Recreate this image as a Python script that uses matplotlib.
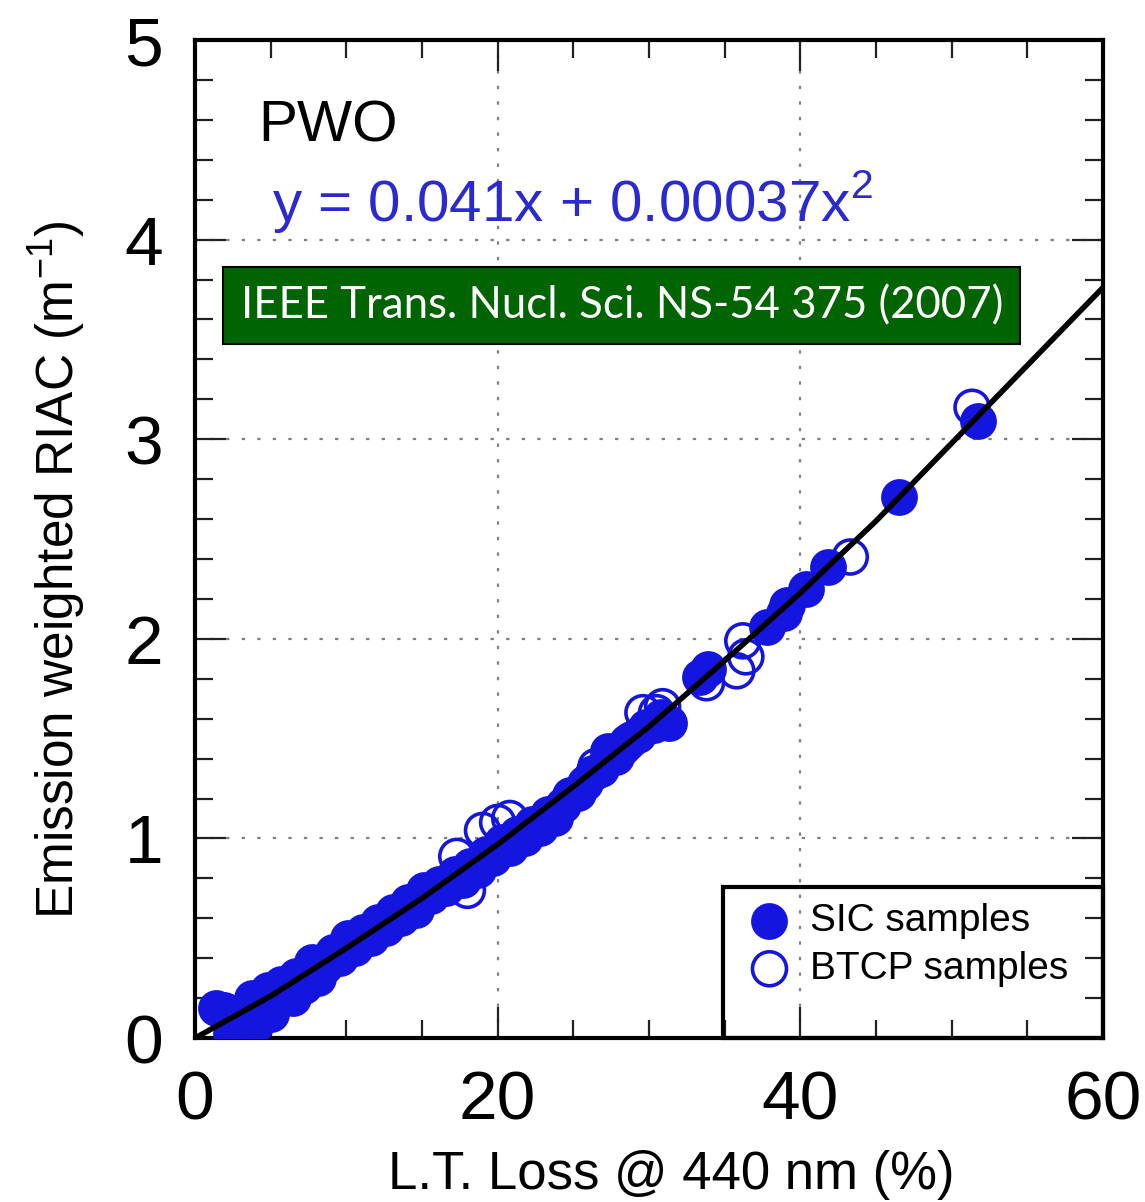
import matplotlib
matplotlib.use("Agg")
import matplotlib.pyplot as plt
from matplotlib.patches import Rectangle
from matplotlib.ticker import MultipleLocator

plt.rcParams['font.family'] = ['Liberation Sans', 'DejaVu Sans']
plt.rcParams['mathtext.fontset'] = 'custom'
plt.rcParams['mathtext.rm'] = 'Liberation Sans'

# SIC samples (filled)
sic_x = [1.4, 1.9, 2.4, 2.9, 3.3, 3.8, 4.3, 4.8, 5.2, 5.7, 6.2, 6.7, 7.2, 7.7,
         8.1, 8.6, 9.1, 9.6, 10.1, 10.6, 11.1, 11.6, 12.1, 12.6, 13.1, 13.6,
         14.1, 14.6, 15.1, 15.6, 16.1, 16.6, 17.2, 17.7, 18.2, 18.7, 19.2,
         19.7, 20.3, 20.8, 21.3, 21.8, 22.3, 22.8, 23.3, 23.8, 24.3, 24.8,
         25.3, 25.8, 26.3, 26.8, 27.3, 27.8, 28.3, 28.8, 29.3, 29.8, 30.3,
         30.8, 31.3, 3.0, 4.0, 5.0, 6.5, 33.4, 33.9, 37.8, 38.9, 39.1, 40.4,
         41.8, 46.5, 51.75]
sic_y = [0.15, 0.14, 0.02, 0.10, 0.03, 0.20, 0.12, 0.24, 0.17, 0.27, 0.21,
         0.31, 0.26, 0.38, 0.30, 0.36, 0.43, 0.40, 0.50, 0.45, 0.53, 0.50,
         0.58, 0.55, 0.63, 0.60, 0.68, 0.64, 0.74, 0.71, 0.77, 0.75, 0.82,
         0.79, 0.86, 0.84, 0.92, 0.90, 0.98, 0.95, 1.02, 1.00, 1.07, 1.05,
         1.12, 1.10, 1.17, 1.22, 1.23, 1.28, 1.33, 1.35, 1.44, 1.41, 1.46,
         1.50, 1.52, 1.56, 1.57, 1.61, 1.58, 0.00, 0.07, 0.12, 0.20, 1.81,
         1.85, 2.06, 2.13, 2.17, 2.25, 2.36, 2.71, 3.09]

# BTCP samples (open)
btcp_x = [17.3, 18.0, 19.0, 20.0, 20.8, 26.5, 28.6, 29.6, 30.5, 30.9, 33.8,
          35.8, 36.2, 36.4, 43.3, 51.35]
btcp_y = [0.91, 0.74, 1.04, 1.08, 1.10, 1.36, 1.48, 1.63, 1.63, 1.66, 1.78,
          1.84, 1.99, 1.91, 2.41, 3.16]

# fitted curve y = 0.041x + 0.00037x^2, read at 5 % steps
fit_x = [0, 5, 10, 15, 20, 25, 30, 35, 40, 45, 50, 55, 60]
fit_y = [0, 0.21, 0.45, 0.70, 0.97, 1.26, 1.56, 1.89, 2.23, 2.59, 2.98, 3.37, 3.76]

blue = '#1515e0'

fig = plt.figure(figsize=(11.45, 12.02), dpi=100)
ax = fig.add_axes([0.1703, 0.1364, 0.7930, 0.8303])

ax.scatter(sic_x, sic_y, s=600, c=blue, edgecolors=blue, linewidths=2,
           zorder=3, label='SIC samples')
ax.scatter(btcp_x, btcp_y, s=600, facecolors='none', edgecolors=blue,
           linewidths=2.6, zorder=3, label='BTCP samples')
ax.plot(fit_x, fit_y, color='black', lw=4, zorder=4)

ax.set_xlim(0, 60)
ax.set_ylim(0, 5)
ax.xaxis.set_major_locator(MultipleLocator(20))
ax.xaxis.set_minor_locator(MultipleLocator(5))
ax.yaxis.set_major_locator(MultipleLocator(1))
ax.yaxis.set_minor_locator(MultipleLocator(0.2))
ax.tick_params(which='both', direction='in', top=True, right=True, width=1.6,
               color='#222222')
ax.tick_params(which='major', length=22, labelsize=50, pad=23)
ax.tick_params(which='minor', length=13)
for sp in ax.spines.values():
    sp.set_linewidth(3)

ax.grid(True, which='major', color='#808080', lw=1.6, ls=(0, (1.5, 5.5)), zorder=1)

ax.set_xlabel('L.T. Loss @ 440 nm (%)', fontsize=38)
ax.set_ylabel(r'Emission weighted RIAC (m$^{\mathregular{-1}}$)', fontsize=37)
ax.xaxis.set_label_coords(0.525, -0.112)
ax.yaxis.set_label_coords(-0.118, 0.469)

ax.text(4.16, 4.49, 'PWO', fontsize=42, color='black', va='baseline')
ax.text(5.1, 4.09, r'y = 0.041x + 0.00037x$^{\mathregular{2}}$', fontsize=42,
        color='#2a2ad0', va='baseline')
ax.text(28.2, 3.67, 'IEEE Trans. Nucl. Sci. NS-54 375 (2007)', fontsize=31.5,
        family=['Lato', 'DejaVu Sans'], color='white', ha='center', va='center',
        zorder=10,
        bbox=dict(boxstyle='square,pad=0.4', fc='#006400', ec='black', lw=1.5))

# legend frame
ax.add_patch(Rectangle((0.5815, 0), 0.4185, 0.151, transform=ax.transAxes,
                       fill=False, ec='black', lw=3, zorder=6, clip_on=False))
ax.legend(loc='upper left', bbox_to_anchor=(0.607, 0.135), frameon=False,
          fontsize=28, handlelength=1.2, handletextpad=0.45, labelspacing=0.3,
          borderpad=0, borderaxespad=0)

fig.savefig('out.png', dpi=100)
